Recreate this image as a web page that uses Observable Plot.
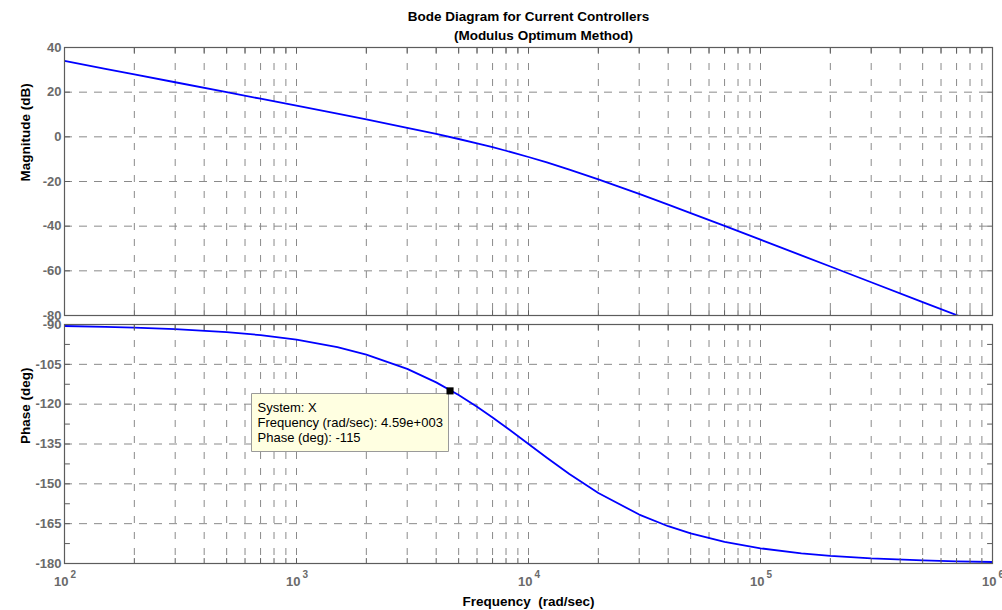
<!DOCTYPE html>
<html>
<head>
<meta charset="utf-8">
<script src="https://cdn.jsdelivr.net/npm/d3@7"></script>
<script src="https://cdn.jsdelivr.net/npm/@observablehq/plot@0.6"></script>
<style>
  html, body { margin: 0; padding: 0; background: #ffffff; }
  #chart { position: relative; width: 1002px; height: 610px; font-family: "Liberation Sans", Arial, sans-serif; }
  #chart svg { position: absolute; left: 0; overflow: visible; }
</style>
</head>
<body>
<div id="chart"></div>
<script>
// Open-loop response of the current loop, sampled along the frequency axis (rad/sec)
const frequency   = [100, 150, 200, 300, 500, 700, 1000, 1500, 2000, 3000, 4000, 5000, 6000, 7000, 8000,
                     10000, 12000, 15000, 20000, 30000, 40000, 50000, 70000, 100000, 150000, 200000,
                     300000, 500000, 700000, 1000000];
const magnitudeDb = [33.98, 30.46, 27.96, 24.44, 19.99, 17.06, 13.94, 10.36, 7.79, 4.06, 1.29, -0.97, -2.92,
                     -4.66, -6.23, -9.03, -11.48, -14.66, -19.03, -25.56, -30.36, -34.15, -39.91, -46.06,
                     -53.08, -58.07, -65.11, -73.98, -79.82, -86.02];
const phaseDeg    = [-90.57, -90.86, -91.15, -91.72, -92.86, -94.00, -95.71, -98.53, -101.31, -106.70, -111.80,
                     -116.57, -120.96, -124.99, -128.66, -135.00, -140.19, -146.31, -153.43, -161.57, -165.96,
                     -168.69, -171.87, -174.29, -176.19, -177.14, -178.09, -178.85, -179.18, -179.43];

// Axis ticks and labels
const magnitudeTicks   = [40, 20, 0, -20, -40, -60, -80];
const phaseTicks       = [-90, -105, -120, -135, -150, -165, -180];
const phaseMinorTicks  = [-97.5, -112.5, -127.5, -142.5, -157.5, -172.5];
const decadeTicks      = [1e2, 1e3, 1e4, 1e5, 1e6];
const decadeBase       = "10";
const decadeExponents  = ["2", "3", "4", "5", "6"];

// Texts
const titleLines     = ["Bode Diagram for Current Controllers", "(Modulus Optimum Method)"];
const magnitudeLabel = "Magnitude (dB)";
const phaseLabel     = "Phase (deg)";
const frequencyLabel = "Frequency  (rad/sec)";

// Data tip on the phase curve
const dataTip = {system: "X", frequency: 4590, phase: -115};

const magnitudeRows = frequency.map((f, i) => ({f, v: magnitudeDb[i]}));
const phaseRows     = frequency.map((f, i) => ({f, v: phaseDeg[i]}));
const gridFrequencies = d3.scaleLog().domain([1e2, 1e6]).ticks();

const font = "'Liberation Sans', Arial, sans-serif";
const tickColor = "#6a6a6a";
const gridColor = "#8a8a8a";
const frameColor = "#5c5c5c";
const lineColor = "#0000ff";
const keepSpaces = s => s.replace(/ /g, "\u00a0");

// MATLAB-style exponent, e.g. 4.59e+003
function matlabExp(v) {
  const [m, e] = v.toExponential(2).split("e");
  return `${m}e${e[0]}${e.slice(1).padStart(3, "0")}`;
}

const common = {
  width: 1002,
  marginLeft: 64,
  marginRight: 10,
  style: {background: "transparent", overflow: "visible", fontFamily: font, color: "black"},
  x: {type: "log", domain: [1e2, 1e6], axis: null}
};

// A short straight stroke pointing from the frame edge into the panel
const tickShape = {draw(context, l) { context.moveTo(0, 0); context.lineTo(0, -l); }};

// Inward tick marks on all four sides of a panel
function boxTicks(yTicks) {
  const tick = {length: 5, anchor: "start", shape: tickShape, stroke: frameColor, strokeWidth: 1};
  return [
    Plot.vector(gridFrequencies, {x: d => d, frameAnchor: "top", rotate: 180, ...tick}),
    Plot.vector(gridFrequencies, {x: d => d, frameAnchor: "bottom", rotate: 0, ...tick}),
    Plot.vector(yTicks, {y: d => d, frameAnchor: "left", rotate: 90, ...tick}),
    Plot.vector(yTicks, {y: d => d, frameAnchor: "right", rotate: -90, ...tick})
  ];
}

function yLabels(ticks) {
  return Plot.axisY(ticks, {
    anchor: "left", tickSize: 0, tickPadding: 3, tickFormat: d => String(d), label: null,
    fill: tickColor, fontSize: 13, fontWeight: "bold", fontFamily: font
  });
}

function grid(yTicks) {
  return [
    Plot.gridX(gridFrequencies, {stroke: gridColor, strokeOpacity: 1, strokeDasharray: "7,9"}),
    Plot.gridY(yTicks, {stroke: gridColor, strokeOpacity: 1, strokeDasharray: "8,7"})
  ];
}

const labelText = {fontWeight: "bold", fontSize: 13.5, fill: "black", fontFamily: font, lineAnchor: "middle"};

const magnitudePlot = Plot.plot({
  ...common,
  height: 320,
  marginTop: 47,
  marginBottom: 5,
  y: {domain: [-80, 40]},
  marks: [
    ...grid(magnitudeTicks),
    Plot.line(magnitudeRows, {x: "f", y: "v", stroke: lineColor, strokeWidth: 1.8, clip: true}),
    ...boxTicks(magnitudeTicks),
    yLabels(magnitudeTicks),
    Plot.frame({stroke: frameColor, strokeWidth: 1.2}),
    Plot.text([titleLines[0]], {text: d => d, frameAnchor: "top", dy: -31, ...labelText}),
    Plot.text([titleLines[1]], {text: d => d, frameAnchor: "top", dx: 15, dy: -12, ...labelText}),
    Plot.text([magnitudeLabel], {text: d => d, frameAnchor: "left", rotate: -90, dx: -39, ...labelText})
  ]
});

const phasePlot = Plot.plot({
  ...common,
  height: 290,
  marginTop: 4,
  marginBottom: 47,
  y: {domain: [-180, -90]},
  marks: [
    ...grid(phaseTicks),
    Plot.line(phaseRows, {x: "f", y: "v", stroke: lineColor, strokeWidth: 1.8, clip: true}),
    ...boxTicks([...phaseTicks, ...phaseMinorTicks]),
    yLabels(phaseTicks),
    Plot.frame({stroke: frameColor, strokeWidth: 1.2}),
    Plot.tip([dataTip], {
      x: "frequency", y: "phase",
      title: d => `System: ${d.system}\nFrequency (rad/sec): ${matlabExp(d.frequency)}\nPhase (deg): ${d.phase}`,
      anchor: "top-right", pointerSize: 0, pathFilter: "none", dx: -2, dy: 3,
      fill: "#ffffe1", stroke: "#9a9a9a", fontSize: 13, lineHeight: 1.18, textPadding: 6, fontFamily: font
    }),
    Plot.dot([dataTip], {x: "frequency", y: "phase", symbol: "square", r: 4, fill: "black"}),
    Plot.text(decadeTicks, {x: d => d, text: () => decadeBase, frameAnchor: "bottom", lineAnchor: "middle",
      textAnchor: "end", dx: 4, dy: 18, fill: tickColor, fontWeight: "bold", fontSize: 13, fontFamily: font}),
    Plot.text(decadeTicks, {x: d => d, text: (d, i) => decadeExponents[i], frameAnchor: "bottom", lineAnchor: "middle",
      textAnchor: "start", dx: 6, dy: 11, fill: tickColor, fontWeight: "bold", fontSize: 10, fontFamily: font}),
    Plot.text([frequencyLabel], {text: d => keepSpaces(d), frameAnchor: "bottom", dy: 38, ...labelText}),
    Plot.text([phaseLabel], {text: d => d, frameAnchor: "left", rotate: -90, dx: -39, ...labelText})
  ]
});

const chart = document.getElementById("chart");
magnitudePlot.style.top = "0px";
phasePlot.style.top = "320px";
chart.append(magnitudePlot, phasePlot);
</script>
</body>
</html>
